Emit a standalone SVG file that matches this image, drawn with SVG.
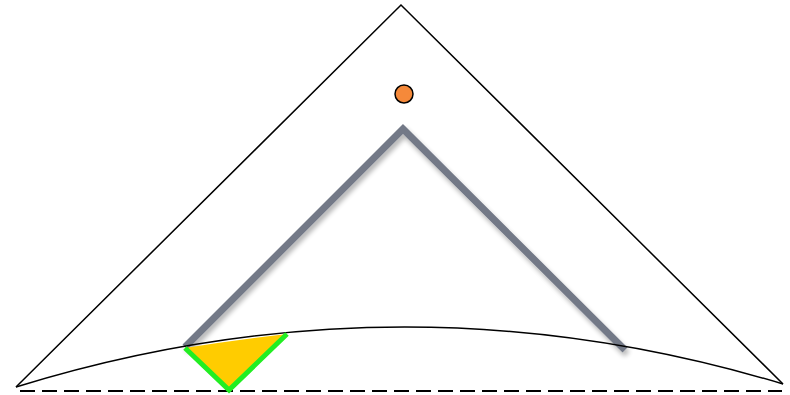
<svg xmlns="http://www.w3.org/2000/svg" width="790" height="395" viewBox="0 0 790 395">
<defs>
<filter id="sh" x="-10%" y="-10%" width="120%" height="130%">
<feGaussianBlur in="SourceAlpha" stdDeviation="2.5"/>
<feOffset dx="2" dy="4" result="b"/>
<feComponentTransfer><feFuncA type="linear" slope="0.3"/></feComponentTransfer>
<feMerge><feMergeNode/><feMergeNode in="SourceGraphic"/></feMerge>
</filter>
<style>
.thin{fill:none;stroke:#000;stroke-width:1.5}
</style>
</defs>
<rect width="790" height="395" fill="#fff"/>
<g id="outer-triangle"><polyline class="thin" points="16,387 401,5 783,384"/></g>
<g id="baseline"><line x1="20" y1="391" x2="782" y2="391" stroke="#000" stroke-width="2" stroke-dasharray="15,7"/></g>
<g id="chevron"><polyline points="185,347 403,129 625,350" fill="none" stroke="#737987" stroke-width="7" stroke-linejoin="miter" filter="url(#sh)"/></g>
<g id="curve"><path class="thin" d="M16,387 Q400,268.5 783,384"/></g>
<g id="wedge">
<path d="M185,348 Q235,340 287,334 L229,390 Z" fill="#ffcc00"/>
<polyline points="185,348 229,390 287,334" fill="none" stroke="#22ee22" stroke-width="5" stroke-linejoin="miter"/>
</g>
<g id="dot"><circle cx="404" cy="94" r="9" fill="#f5893a" stroke="#000" stroke-width="1.5"/></g>
</svg>
